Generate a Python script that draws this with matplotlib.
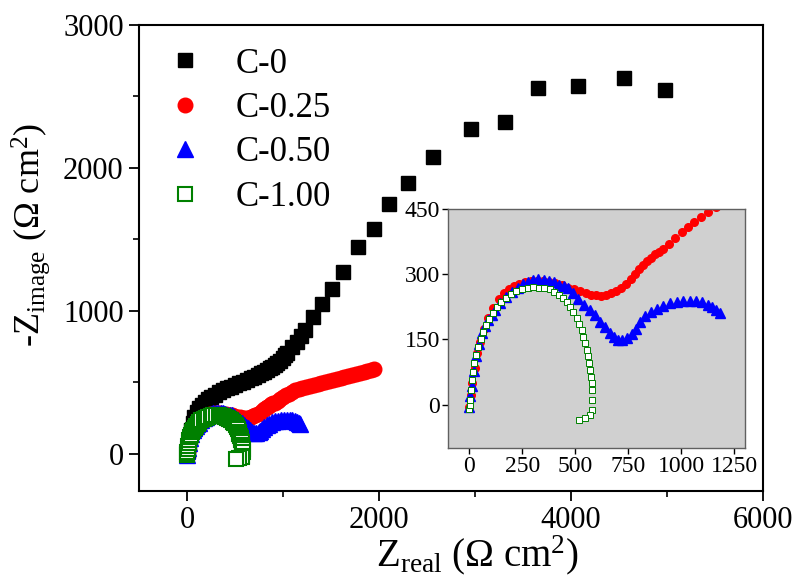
import matplotlib
matplotlib.use("Agg")
import matplotlib.pyplot as plt
from matplotlib.ticker import MultipleLocator

plt.rcParams['font.family'] = ['Liberation Serif', 'DejaVu Serif']
plt.rcParams['mathtext.fontset'] = 'custom'
plt.rcParams['mathtext.rm'] = 'Liberation Serif'
plt.rcParams['mathtext.it'] = 'Liberation Serif:italic'

# C-0 (black squares)
c0_x = [15, 22, 32, 45, 60, 78, 100, 125, 155, 185, 215, 250, 290, 335, 376, 420,
        460, 500, 545, 585, 627, 665, 700, 735, 770, 805, 836, 865, 890, 915, 940,
        968, 995, 1020, 1045, 1095, 1149, 1190, 1233, 1317, 1411, 1515, 1630, 1776,
        1944, 2100, 2299, 2560, 2957, 3312, 3657, 4075, 4556, 4984]
c0_y = [20, 70, 120, 170, 215, 255, 290, 320, 345, 365, 382, 398, 413, 432, 448, 460,
        470, 481, 492, 504, 517, 529, 540, 551, 562, 574, 587, 598, 610, 622, 636,
        652, 670, 688, 706, 745, 783, 825, 867, 958, 1049, 1154, 1273, 1448,
        1573, 1748, 1895, 2077, 2273, 2322, 2559, 2573, 2629, 2545]

# C-0.25 (red circles)
c025_x = [0, 6, 14, 25, 38, 52, 70, 90, 112, 140, 165, 185, 210, 235, 262, 290, 318,
          345, 375, 406, 437, 467, 494, 521, 548, 575, 598, 621, 644, 667, 690, 713,
          737, 760, 779, 798, 818, 837, 856, 875, 894, 914, 943, 972, 1001, 1030,
          1061, 1092, 1127, 1162, 1200, 1240, 1280, 1320, 1360, 1400, 1440, 1480,
          1520, 1560, 1600, 1640, 1680, 1720, 1760, 1800, 1840, 1880, 1915, 1950]
c025_y = [-5, 22, 50, 85, 118, 145, 175, 200, 222, 243, 256, 265, 272, 278, 282, 284,
          285, 284, 282, 279, 274, 269, 265, 261, 257, 253, 251, 250, 252, 256, 262,
          269, 278, 288, 300, 311, 321, 330, 338, 346, 352, 357, 370, 383, 396, 409,
          421, 432, 444, 455, 462, 470, 476, 483, 490, 497, 503, 510, 516, 522, 528,
          535, 541, 548, 555, 562, 569, 576, 583, 590]

# C-0.50 (blue triangles)
c050_x = [0, 5, 12, 20, 32, 45, 59, 75, 90, 105, 120, 145, 174, 200, 228, 252, 275,
          300, 326, 350, 375, 398, 421, 445, 467, 490, 514, 540, 568, 592, 615, 638,
          661, 680, 699, 722, 745, 765, 784, 806, 830, 856, 884, 915, 946, 977, 1008,
          1040, 1070, 1098, 1124, 1145, 1162, 1180]
c050_y = [-5, 20, 42, 78, 111, 140, 164, 180, 195, 207, 218, 234, 248, 260, 269, 277,
          283, 286, 288, 287, 285, 281, 275, 272, 269, 257, 242, 230, 218, 205, 191,
          178, 164, 155, 148, 148, 154, 163, 174, 190, 204, 212, 220, 227, 233, 236,
          238, 239, 238, 235, 229, 224, 218, 210]

# C-1.00 (green open squares)
c100_x = [0, 3, 5, 8, 12, 17, 23, 32, 43, 54, 66, 80, 94, 110, 128, 150, 174, 197,
          220, 248, 275, 302, 329, 354, 378, 400, 421, 441, 460, 476, 491, 506, 519,
          529, 537, 546, 553, 559, 564, 569, 573, 577, 579, 580, 578, 568, 545, 515]
c100_y = [-10, 0, 11, 33, 56, 76, 95, 115, 133, 150, 167, 183, 198, 211, 224, 236,
          246, 254, 261, 266, 269, 270, 269, 268, 265, 259, 252, 245, 236, 225, 213,
          200, 186, 171, 156, 141, 126, 111, 95, 80, 64, 49, 34, 11, -12, -25, -30, -36]

labels = ['C-0', 'C-0.25', 'C-0.50', 'C-1.00']
GREEN = '#008000'

fig = plt.figure(figsize=(7.96, 5.88), dpi=100)
ax = fig.add_axes([0.1746, 0.165, 0.784, 0.7925])

ax.plot(c0_x, c0_y, 's', color='black', ms=10.5, label=labels[0])
ax.plot(c025_x, c025_y, 'o', color='red', ms=10.5, label=labels[1])
ax.plot(c050_x, c050_y, '^', color='blue', ms=11, label=labels[2])
ax.plot(c100_x, c100_y, 's', mfc='white', mec=GREEN, mew=1.5, ms=9.5, label=labels[3])

ax.set_xlim(-500, 6000)
ax.set_ylim(-260, 3000)
ax.xaxis.set_major_locator(MultipleLocator(2000))
ax.xaxis.set_minor_locator(MultipleLocator(1000))
ax.yaxis.set_major_locator(MultipleLocator(1000))
ax.yaxis.set_minor_locator(MultipleLocator(500))
ax.tick_params(which='major', direction='out', length=7, width=1.3, labelsize=22, pad=4)
ax.tick_params(which='minor', direction='out', length=4, width=1.2)
for s in ax.spines.values():
    s.set_linewidth(1.5)

ax.set_xlabel(r'Z$_{\mathrm{real}}$ ($\Omega$ cm$^{2}$)', fontsize=28)
ax.set_ylabel(r'-Z$_{\mathrm{image}}$ ($\Omega$ cm$^{2}$)', fontsize=26)
ax.xaxis.set_label_coords(0.543, -0.09)
ax.yaxis.set_label_coords(-0.14, 0.55)

ax.legend(loc='upper left', bbox_to_anchor=(0.01, 1.0), frameon=False, fontsize=25,
          handlelength=1.0, handletextpad=0.95, labelspacing=0.33, borderaxespad=0.25)

# inset
ins = fig.add_axes([0.563, 0.238, 0.373, 0.4066], facecolor='#d0d0d0')
ins.plot(c025_x, c025_y, 'o', color='red', ms=5.5)
ins.plot(c050_x, c050_y, '^', color='blue', ms=7)
ins.plot(c100_x, c100_y, 's', mfc='white', mec=GREEN, mew=0.7, ms=5)
ins.set_xlim(-100, 1300)
ins.set_ylim(-100, 450)
ins.xaxis.set_major_locator(MultipleLocator(250))
ins.yaxis.set_major_locator(MultipleLocator(150))
ins.tick_params(direction='out', length=4, width=1, labelsize=17, pad=2)
for s in ins.spines.values():
    s.set_linewidth(1)
    s.set_color('#606060')

fig.savefig('out.png', dpi=100)
